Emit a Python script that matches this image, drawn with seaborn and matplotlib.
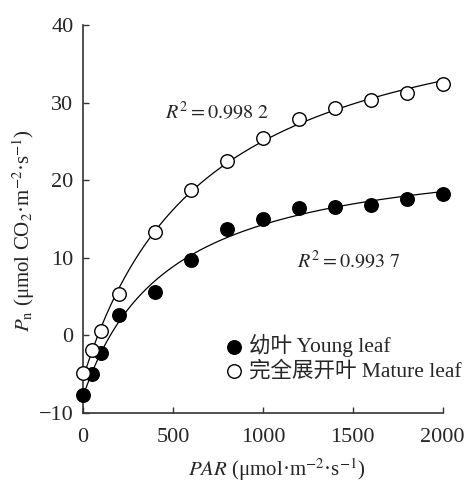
import numpy as np
import pandas as pd
import matplotlib
matplotlib.use("Agg")
import matplotlib.pyplot as plt
import seaborn as sns

par = [0, 50, 100, 200, 400, 600, 800, 1000, 1200, 1400, 1600, 1800, 2000]
young = [-7.7, -5.0, -2.3, 2.6, 5.6, 9.7, 13.7, 15.0, 16.4, 16.5, 16.8, 17.6, 18.2]
mature = [-4.9, -1.9, 0.5, 5.3, 13.3, 18.8, 22.5, 25.5, 27.9, 29.3, 30.3, 31.3, 32.4]
young_label = "幼叶 Young leaf"
mature_label = "完全展开叶 Mature leaf"
r2_young = r"$R^2 = 0.993\ 7$"
r2_mature = r"$R^2 = 0.998\ 2$"

sns.set_style("ticks")
plt.rcParams["font.family"] = ["Liberation Serif", "Noto Sans CJK SC"]
plt.rcParams["mathtext.fontset"] = "stix"
plt.rcParams["axes.unicode_minus"] = True


def fit_curve(x, y):
    # rectangular hyperbola y = A*x/(x+K) + B, grid search on K
    x = np.asarray(x, float)
    y = np.asarray(y, float)
    best = None
    for k in np.linspace(50, 5000, 2000):
        m = np.column_stack([x / (x + k), np.ones_like(x)])
        coef, res, _, _ = np.linalg.lstsq(m, y, rcond=None)
        err = np.sum((m @ coef - y) ** 2)
        if best is None or err < best[0]:
            best = (err, k, coef)
    _, k, coef = best
    xs = np.linspace(0, 2000, 300)
    return xs, coef[0] * xs / (xs + k) + coef[1]


fig = plt.figure(figsize=(4.67, 4.84), dpi=100)
ax = fig.add_axes([0.178, 0.147, 0.77, 0.801])

for vals in (young, mature):
    xs, ys = fit_curve(par, vals)
    sns.lineplot(x=xs, y=ys, ax=ax, color="black", lw=0.9, zorder=2)

sns.scatterplot(x=par, y=young, ax=ax, s=95, color="black", edgecolor="black",
                linewidth=1, label=young_label, zorder=3, clip_on=False)
sns.scatterplot(x=par, y=mature, ax=ax, s=95, facecolor="white", edgecolor="black",
                linewidth=1, label=mature_label, zorder=3, clip_on=False)

ax.set_xlim(0, 2000)
ax.set_ylim(-10, 40)
ax.set_xticks([0, 500, 1000, 1500, 2000])
ax.set_yticks([-10, 0, 10, 20, 30, 40])
ax.tick_params(direction="in", length=4, width=1, labelsize=16, color="#333")
ax.tick_params(axis="x", pad=11)
ax.tick_params(axis="y", pad=7)
for side in ("top", "right"):
    ax.spines[side].set_visible(False)
for side in ("left", "bottom"):
    ax.spines[side].set_linewidth(1.2)
    ax.spines[side].set_color("#333")

ax.set_xlabel(r"$PAR$ (μmol·m$^{-2}$·s$^{-1}$)", fontsize=15)
ax.set_ylabel(r"$P_{\mathrm{n}}$ (μmol CO$_2$·m$^{-2}$·s$^{-1}$)", fontsize=15)
ax.xaxis.set_label_coords(0.537, -0.112)
ax.yaxis.set_label_coords(-0.128, 0.47)

ax.text(455, 28.7, r2_mature, fontsize=14.5, va="center", ha="left")
ax.text(1187, 9.5, r2_young, fontsize=14.5, va="center", ha="left")

ax.legend(loc="upper left", bbox_to_anchor=(0.36, 0.225), frameon=False,
          fontsize=15.5, handletextpad=0.1, labelspacing=0.15, borderaxespad=0,
          handlelength=1.2)

fig.savefig("out.png", dpi=100)
